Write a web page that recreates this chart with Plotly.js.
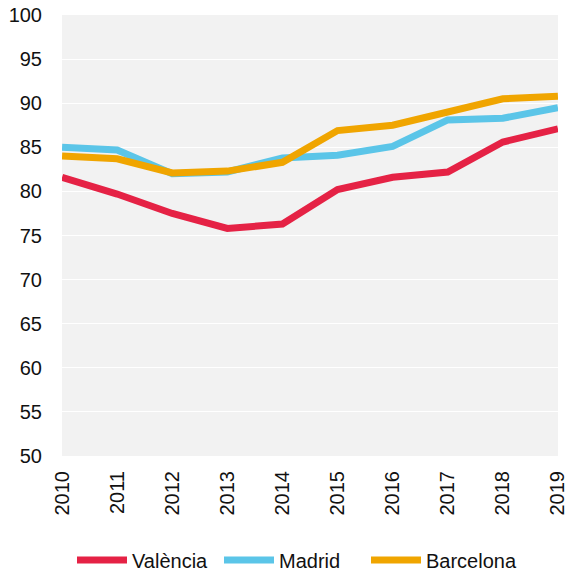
<!DOCTYPE html>
<html>
<head>
<meta charset="utf-8">
<script src="https://cdn.plot.ly/plotly-3.0.1.min.js"></script>
<style>
  body { margin: 0; background: #fff; }
  #graph { width: 567px; height: 575px; }
</style>
</head>
<body>
<div id="graph"></div>
<script>
var years = [2010, 2011, 2012, 2013, 2014, 2015, 2016, 2017, 2018, 2019];
var valencia  = [81.6, 79.7, 77.5, 75.8, 76.3, 80.2, 81.6, 82.2, 85.6, 87.1];
var madrid    = [85.0, 84.7, 82.0, 82.2, 83.8, 84.1, 85.1, 88.1, 88.3, 89.5];
var barcelona = [84.0, 83.7, 82.1, 82.3, 83.3, 86.9, 87.5, 89.1, 90.5, 90.8];
var yTicks = [50, 55, 60, 65, 70, 75, 80, 85, 90, 95, 100];

function line(name, y, color) {
    return {
        x: years,
        y: y,
        name: name,
        type: 'scatter',
        mode: 'lines',
        line: {color: color, width: 7}
    };
}

var data = [
    line('València', valencia, '#e52245'),
    line('Madrid', madrid, '#5bc5e8'),
    line('Barcelona', barcelona, '#f0a500')
];

var layout = {
    width: 567,
    height: 575,
    margin: {l: 62, r: 9, t: 15, b: 119},
    paper_bgcolor: '#ffffff',
    plot_bgcolor: '#f2f2f2',
    font: {family: 'Liberation Sans, Arial, sans-serif', size: 20, color: '#111111'},
    showlegend: true,
    legend: {
        orientation: 'h',
        xref: 'container', yref: 'container',
        x: 72 / 567, xanchor: 'left',
        y: 1 - 560 / 575, yanchor: 'middle',
        font: {size: 20},
        itemwidth: 50,
        entrywidth: 82,
        entrywidthmode: 'pixels',
        traceorder: 'normal',
        bgcolor: 'rgba(0,0,0,0)'
    },
    xaxis: {
        range: [2009.999, 2019.001],
        tickvals: years,
        ticktext: years.map(String),
        tickangle: -90,
        ticklabeloverflow: 'allow',
        showgrid: false,
        zeroline: false,
        showline: false,
        ticks: '',
        ticklabelstandoff: 10,
        automargin: false,
        fixedrange: true
    },
    yaxis: {
        range: [50, 100],
        tickvals: yTicks,
        showgrid: true,
        gridcolor: '#ffffff',
        gridwidth: 1,
        zeroline: false,
        showline: false,
        ticks: '',
        ticklabelstandoff: 19,
        automargin: false,
        fixedrange: true
    }
};

Plotly.newPlot('graph', data, layout, {displayModeBar: false, staticPlot: true})
    .then(function () {
        // the last legend entry is wider than entrywidth; don't let the legend box cut it
        document.querySelectorAll('.legend [clip-path]').forEach(function (el) {
            el.removeAttribute('clip-path');
        });
    });
</script>
</body>
</html>
